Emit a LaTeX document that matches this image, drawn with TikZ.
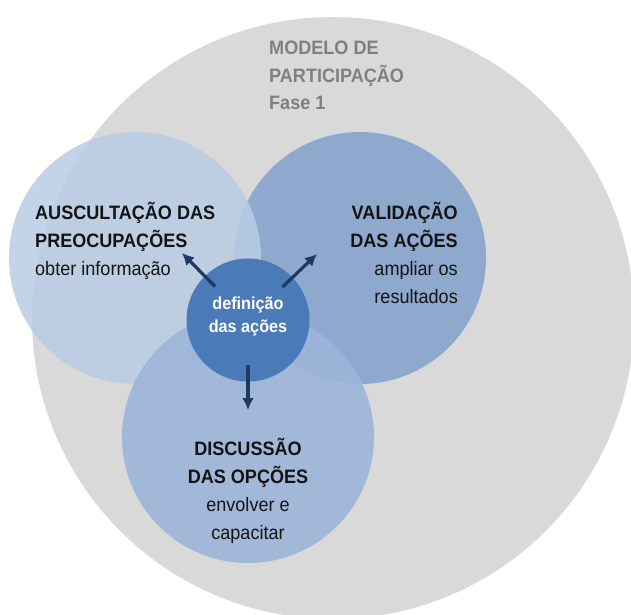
\documentclass[tikz,border=0pt]{standalone}
\usepackage{fontspec}
\setmainfont{Liberation Sans}[FakeStretch=0.93]
\usetikzlibrary{calc}
\usetikzlibrary{shapes,arrows,arrows.meta}

\definecolor{fundo}{HTML}{D9D9D9}
\definecolor{azulclaro}{HTML}{B9CDE5}
\definecolor{azulmedio}{HTML}{8EA9CD}
\definecolor{azulbaixo}{HTML}{9DB5D8}
\definecolor{azulforte}{HTML}{4A7AB8}
\definecolor{seta}{HTML}{1F3864}
\definecolor{cinzatexto}{HTML}{7F7F7F}
\definecolor{textoescuro}{HTML}{141414}

\begin{document}
\begin{tikzpicture}[x=1bp,y=-1bp]


 \tikzset{
    bolha/.style={
      circle,
      minimum size=252bp,
      inner sep=0mm,
      outer sep=0mm
    },
    rotulo/.style={
      inner sep=0mm,
      text=textoescuro,
      font=\fontsize{19.5}{28}\selectfont
    },
    ligacao/.style={
      draw=seta,
      line width=3.2pt,
      -{Latex[length=12pt,width=12pt]}
    }
  }

\useasboundingbox (0,0) rectangle (631,615);
\clip (0,0) rectangle (631,615);

% circulos
\node[bolha, fill=fundo, minimum size=602bp] (fase) at (333,318) {};
\node[bolha, fill=azulmedio] (validacao) at (360,258) {};
\node[bolha, fill=azulclaro, opacity=.85] (auscultacao) at (135,258) {};
\node[bolha, fill=azulbaixo, opacity=.9] (discussao) at (248,437) {};
\node[bolha, fill=azulforte, minimum size=123bp] (definicao) at (248,320) {};

% textos
\node[rotulo, text=cinzatexto, anchor=base west, align=left] (titulo) at (269,110)
  {\textbf{MODELO DE}\\\textbf{PARTICIPAÇÃO}\\\textbf{Fase 1}};
\node[rotulo, anchor=base west, align=left] (txtauscultacao) at (35,275)
  {\textbf{AUSCULTAÇÃO DAS}\\\textbf{PREOCUPAÇÕES}\\obter informação};
\node[rotulo, anchor=base east, align=right] (txtvalidacao) at (458,303)
  {\textbf{VALIDAÇÃO}\\\textbf{DAS AÇÕES}\\ampliar os\\resultados};
\node[rotulo, anchor=base, align=center] (txtdiscussao) at (248,539)
  {\textbf{DISCUSSÃO}\\\textbf{DAS OPÇÕES}\\envolver e\\capacitar};
\node[rotulo, text=white, anchor=base, align=center, font=\fontsize{17.5}{23}\selectfont] (txtdefinicao) at (248,332)
  {\textbf{definição}\\\textbf{das ações}};

% setas
\coordinate (p1) at (182,253);
\coordinate (p2) at (317,254);
\coordinate (p3) at (248,410);

\draw[ligacao] ($(definicao)!0.5!(p1)$) -- (p1);
\draw[ligacao] ($(definicao)!0.5!(p2)$) -- (p2);
\draw[ligacao] ($(definicao)!0.5!(p3)$) -- (p3);
\end{tikzpicture}
\end{document}
